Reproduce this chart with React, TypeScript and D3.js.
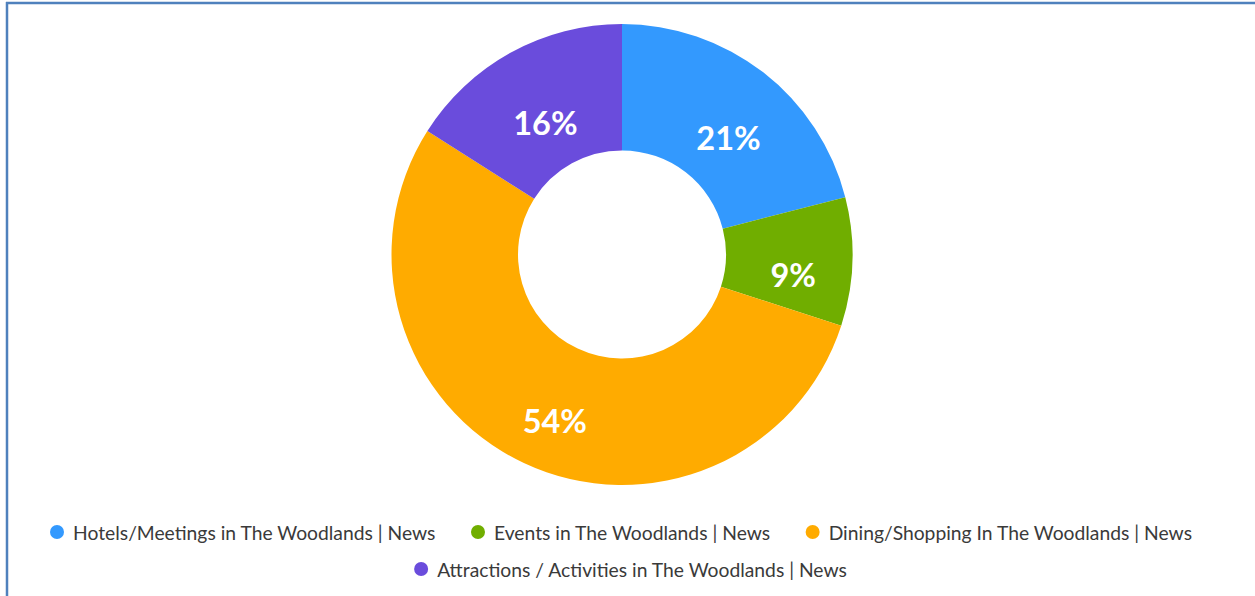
import React, { useEffect, useRef } from "react";
import * as d3 from "d3";

const categories = [
  "Hotels/Meetings in The Woodlands | News",
  "Events in The Woodlands | News",
  "Dining/Shopping In The Woodlands | News",
  "Attractions / Activities in The Woodlands | News",
];
const values = [21, 9, 54, 16];
const colors = ["#3399fe", "#70ae00", "#ffab00", "#6a4cdc"];
const legendRows = [[0, 1, 2], [3]];
const legendRowCenters = [621, 630.5];

const W = 1255;
const H = 596;

export default function App() {
  const ref = useRef<SVGSVGElement | null>(null);

  useEffect(() => {
    const svg = d3.select(ref.current);
    svg.selectAll("*").remove();

    // frame
    svg.append("line").attr("x1", 6).attr("x2", W).attr("y1", 3).attr("y2", 3)
      .attr("stroke", "#4f81bd").attr("stroke-width", 2.5);
    svg.append("line").attr("x1", 7).attr("x2", 7).attr("y1", 2).attr("y2", H)
      .attr("stroke", "#4f81bd").attr("stroke-width", 2.5);

    const cx = 622, cy = 254.5, rOuter = 230.5, rInner = 104;
    const data = values.map((v, i) => ({ v, i }));
    const pie = d3.pie<{ v: number; i: number }>().value((d) => d.v).sort(null);
    const arcs = pie(data);
    const arc = d3.arc<d3.PieArcDatum<{ v: number; i: number }>>()
      .innerRadius(rInner).outerRadius(rOuter);

    const g = svg.append("g").attr("transform", `translate(${cx},${cy})`);
    g.selectAll("path").data(arcs).enter().append("path")
      .attr("d", arc as any)
      .attr("fill", (d) => colors[d.data.i]);

    const total = d3.sum(values);
    g.selectAll("text").data(arcs).enter().append("text")
      .attr("x", (d) => arc.centroid(d)[0] + 4)
      .attr("y", (d) => arc.centroid(d)[1] + 15)
      .attr("text-anchor", "middle")
      .attr("dominant-baseline", "central")
      .attr("font-family", "Lato")
      .attr("font-weight", "bold")
      .attr("font-size", 32.5)
      .attr("fill", "#ffffff")
      .text((d) => `${Math.round((d.data.v / total) * 100)}%`);

    // legend
    const rowY = [532, 569];
    const dotR = 7;
    const dotGap = 9;
    const itemGap = 35.5;
    legendRows.forEach((row, ri) => {
      const lg = svg.append("g");
      let x = 0;
      row.forEach((idx, k) => {
        const item = lg.append("g").attr("transform", `translate(${x},0)`);
        item.append("circle").attr("cx", dotR).attr("cy", 0).attr("r", dotR).attr("fill", colors[idx]);
        const t = item.append("text")
          .attr("x", dotR * 2 + dotGap)
          .attr("y", 0)
          .attr("dominant-baseline", "central")
          .attr("font-family", "Lato")
          .attr("font-size", 19.3)
          .attr("fill", "#3a3a3a")
          .text(categories[idx]);
        const tw = (t.node() as SVGTextElement).getComputedTextLength();
        x += dotR * 2 + dotGap + tw + (k < row.length - 1 ? itemGap : 0);
      });
      const startX = legendRowCenters[ri] - x / 2;
      lg.attr("transform", `translate(${startX},${rowY[ri]})`);
    });
  }, []);

  return (
    <div style={{ position: "fixed", left: 0, top: 0, width: W, height: H, background: "#fff" }}>
      <svg ref={ref} width={W} height={H} />
    </div>
  );
}
